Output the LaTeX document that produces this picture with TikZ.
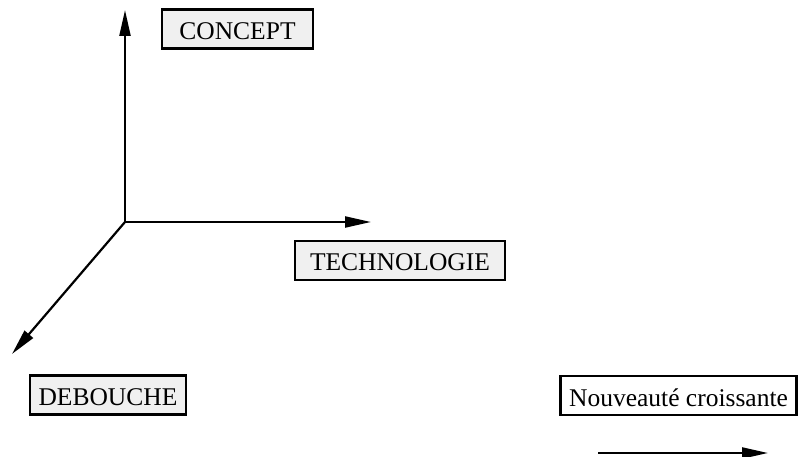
\documentclass[tikz,border=0pt]{standalone}
\usepackage{fontspec}
\setmainfont{Liberation Serif}
\usetikzlibrary{arrows.meta}
\begin{document}
\begin{tikzpicture}[x=1pt,y=-1pt,
  axis/.style={line width=2.2pt,-{Triangle[length=26pt,width=11pt]}},
  label box/.style={draw,line width=2.2pt,fill=black!6,font=\fontsize{25.5}{28}\selectfont,inner sep=0pt,minimum height=39pt,text depth=0pt},
  legend box/.style={label box,fill=white}]
\useasboundingbox (0,0) rectangle (798,457);
\coordinate (O) at (125,222);
\coordinate (up) at (125,10);
\coordinate (right) at (371,222);
\coordinate (diag) at (12,354);
\coordinate (ls) at (598,453);
\coordinate (le) at (768,453);
\draw[axis] (O) -- (up);
\draw[axis] (O) -- (right);
\draw[axis] (O) -- (diag);
\draw[axis] (ls) -- (le);
\node[label box,minimum width=151pt] (concept) at (237.5,29) {\raisebox{-0.35ex}{CONCEPT}};
\node[label box,minimum width=210pt] (techno) at (400,260.5) {\raisebox{-0.35ex}{TECHNOLOGIE}};
\node[label box,minimum width=156pt] (debouche) at (108,395) {\raisebox{-0.35ex}{DEBOUCHE}};
\node[legend box,minimum width=236pt] (nouv) at (678.5,395.5) {\raisebox{-0.35ex}{Nouveauté croissante}};
\end{tikzpicture}
\end{document}
